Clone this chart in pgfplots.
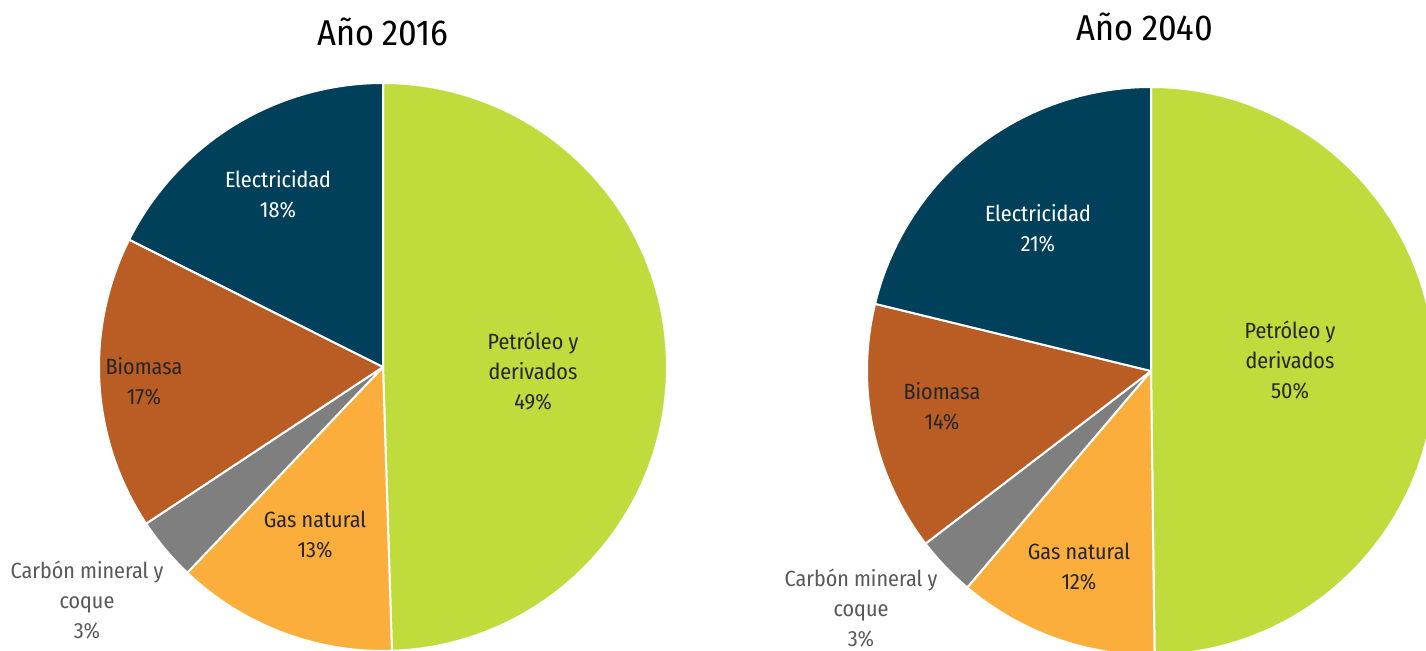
\documentclass[border=0pt]{standalone}
\usepackage{fontspec}
\setmainfont{Fira Sans Condensed}
\usepackage{pgfplots}
\pgfplotsset{compat=1.18}
\definecolor{cPet}{RGB}{192,220,60}
\definecolor{cGas}{RGB}{251,174,60}
\definecolor{cCar}{RGB}{127,127,127}
\definecolor{cBio}{RGB}{186,93,36}
\definecolor{cEle}{RGB}{0,64,90}
\definecolor{tDark}{RGB}{38,38,38}
\definecolor{tGray}{RGB}{89,89,89}
% slice: start percent, percent, colour
\newcommand\slice[3]{%
  \pgfmathsetmacro\aA{90-3.6*(#1+#2)}%
  \pgfmathsetmacro\aB{90-3.6*(#1)}%
  \edef\tmp{\noexpand\addplot[fill=#3, draw=white, line width=1pt, line join=round, domain=\aA:\aB, samples=120]
    ({284*cos(x)},{284*sin(x)}) -- (axis cs:0,0) -- cycle;}\tmp}
\pgfplotsset{pie/.style={x=0.5pt,y=0.5pt,xmin=-300,xmax=300,ymin=-300,ymax=300,
  hide axis, clip=false, anchor=center}}
\begin{document}
\begin{tikzpicture}[x=0.5pt,y=0.5pt]
\useasboundingbox (0,0) rectangle (1426,651);
\node[font=\fontsize{18}{20}\selectfont, text=black] at (383,619) {Año 2016};
\node[font=\fontsize{18}{20}\selectfont, text=black] at (1145,624) {Año 2040};
\begin{axis}[pie, at={(383,284)}]
  \slice{0}{49.5}{cPet}
  \slice{49.5}{12.6}{cGas}
  \slice{62.1}{3.6}{cCar}
  \slice{65.7}{16.7}{cBio}
  \slice{82.4}{17.6}{cEle}
  \begin{scope}[every node/.style={align=center, font=\fontsize{11}{15}\selectfont}]
  \node[text=tDark] at (axis cs:150,-4) {Petróleo y\\derivados\\49\%};
  \node[text=tDark] at (axis cs:-68,-168) {Gas natural\\13\%};
  \node[text=tGray] at (axis cs:-296,-233) {Carbón mineral y\\coque\\3\%};
  \node[text=tDark] at (axis cs:-239,-14) {Biomasa\\17\%};
  \node[text=white] at (axis cs:-105,173) {Electricidad\\18\%};
  \end{scope}
\end{axis}
\begin{axis}[pie, at={(1151,280)}]
  \slice{0}{49.8}{cPet}
  \slice{49.8}{11.4}{cGas}
  \slice{61.2}{3.4}{cCar}
  \slice{64.6}{14.2}{cBio}
  \slice{78.8}{21.2}{cEle}
  \begin{scope}[every node/.style={align=center, font=\fontsize{11}{15}\selectfont}]
  \node[text=tDark] at (axis cs:139,11) {Petróleo y\\derivados\\50\%};
  \node[text=tDark] at (axis cs:-72,-196) {Gas natural\\12\%};
  \node[text=tGray] at (axis cs:-290,-237) {Carbón mineral y\\coque\\3\%};
  \node[text=tDark] at (axis cs:-209,-35) {Biomasa\\14\%};
  \node[text=white] at (axis cs:-113,143) {Electricidad\\21\%};
  \end{scope}
\end{axis}
\end{tikzpicture}
\end{document}
